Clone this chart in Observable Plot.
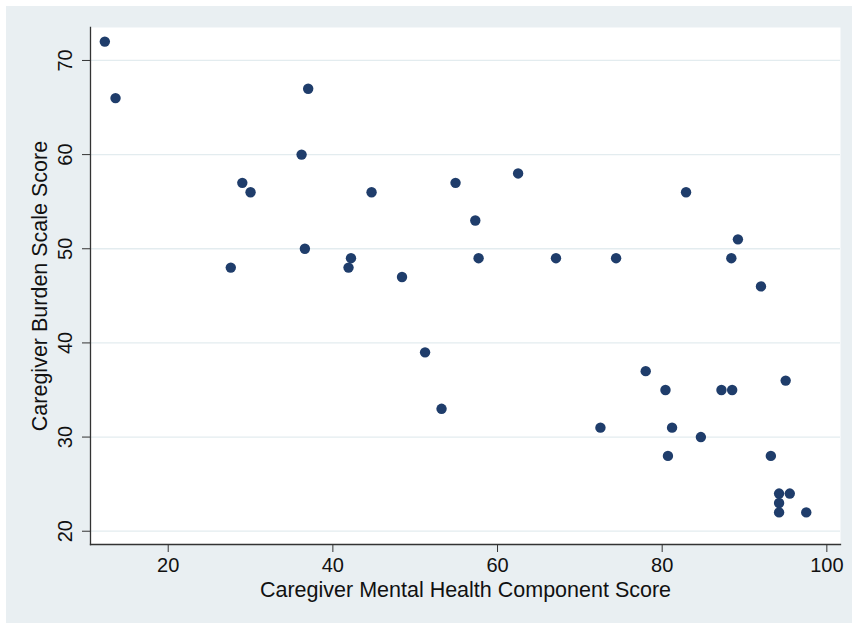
<!DOCTYPE html>
<html>
<head>
<meta charset="utf-8">
<script src="https://cdn.jsdelivr.net/npm/d3@7"></script>
<script src="https://cdn.jsdelivr.net/npm/@observablehq/plot@0.6"></script>
<style>
  html, body { margin: 0; padding: 0; background: #ffffff; }
  #wrap { position: relative; width: 852px; height: 623px; overflow: hidden; }
  #bg { position: absolute; left: 6px; top: 6px; right: 0; bottom: 0; background: #e9eff2; }
  #chart { position: absolute; left: 0; top: 0; }
  svg { font-family: "Liberation Sans", Arial, Helvetica, sans-serif; }
</style>
</head>
<body>
<div id="wrap"><div id="bg"></div><div id="chart"></div></div>
<script>
// Caregiver Mental Health Component Score
const mentalHealth = [12.3, 13.6, 37.0, 36.2, 29.0, 30.0, 44.7, 27.6, 36.6, 42.2, 41.9, 48.4,
  54.9, 62.5, 57.3, 57.7, 67.1, 74.4, 82.9, 89.2, 88.4, 92.0,
  51.2, 53.2, 78.0, 80.4, 87.2, 88.5, 95.0, 72.5, 81.2, 84.7, 80.7, 93.2,
  94.2, 95.5, 94.2, 94.2, 97.5];
// Caregiver Burden Scale Score
const burden = [72, 66, 67, 60, 57, 56, 56, 48, 50, 49, 48, 47,
  57, 58, 53, 49, 49, 49, 56, 51, 49, 46,
  39, 33, 37, 35, 35, 35, 36, 31, 31, 30, 28, 28,
  24, 24, 23, 22, 22];
const xTicks = [20, 40, 60, 80, 100];
const yTicks = [20, 30, 40, 50, 60, 70];
const xTitle = "Caregiver Mental Health Component Score";
const yTitle = "Caregiver Burden Scale Score";
const xDomain = [10.56, 101.66];
const yDomain = [18.59, 73.5];

const data = mentalHealth.map((x, i) => ({x, y: burden[i]}));
const axisColor = "#333333";

const chart = Plot.plot({
  width: 852,
  height: 623,
  marginLeft: 90,
  marginTop: 27,
  marginRight: 12,
  marginBottom: 79,
  style: {background: "transparent", fontFamily: "Liberation Sans, Arial, sans-serif"},
  x: {domain: xDomain},
  y: {domain: yDomain},
  marks: [
    Plot.frame({fill: "#ffffff", stroke: null}),
    Plot.gridY(yTicks, {stroke: "#e3ecef", strokeOpacity: 1, strokeWidth: 1.3}),
    Plot.frame({anchor: "left", stroke: axisColor, strokeWidth: 1.3}),
    Plot.frame({anchor: "bottom", stroke: axisColor, strokeWidth: 1.3}),
    Plot.axisX(xTicks, {tickSize: 8, tickPadding: 5, fontSize: 20, fill: "#111", stroke: axisColor, label: null}),
    Plot.axisY(yTicks, {tickSize: 8, tickPadding: 11, tickRotate: -90, fontSize: 20, fill: "#111", stroke: axisColor, label: null}),
    Plot.text([xTitle], {frameAnchor: "bottom", dy: 46, fontSize: 21.5, fill: "#111", lineAnchor: "middle", textAnchor: "middle"}),
    Plot.text([yTitle], {frameAnchor: "left", dx: -50, rotate: -90, fontSize: 21.5, fill: "#111", lineAnchor: "middle", textAnchor: "middle"}),
    Plot.dot(data, {x: "x", y: "y", r: 5.2, fill: "#1f3d6b", stroke: null})
  ]
});
document.getElementById("chart").appendChild(chart);
</script>
</body>
</html>
